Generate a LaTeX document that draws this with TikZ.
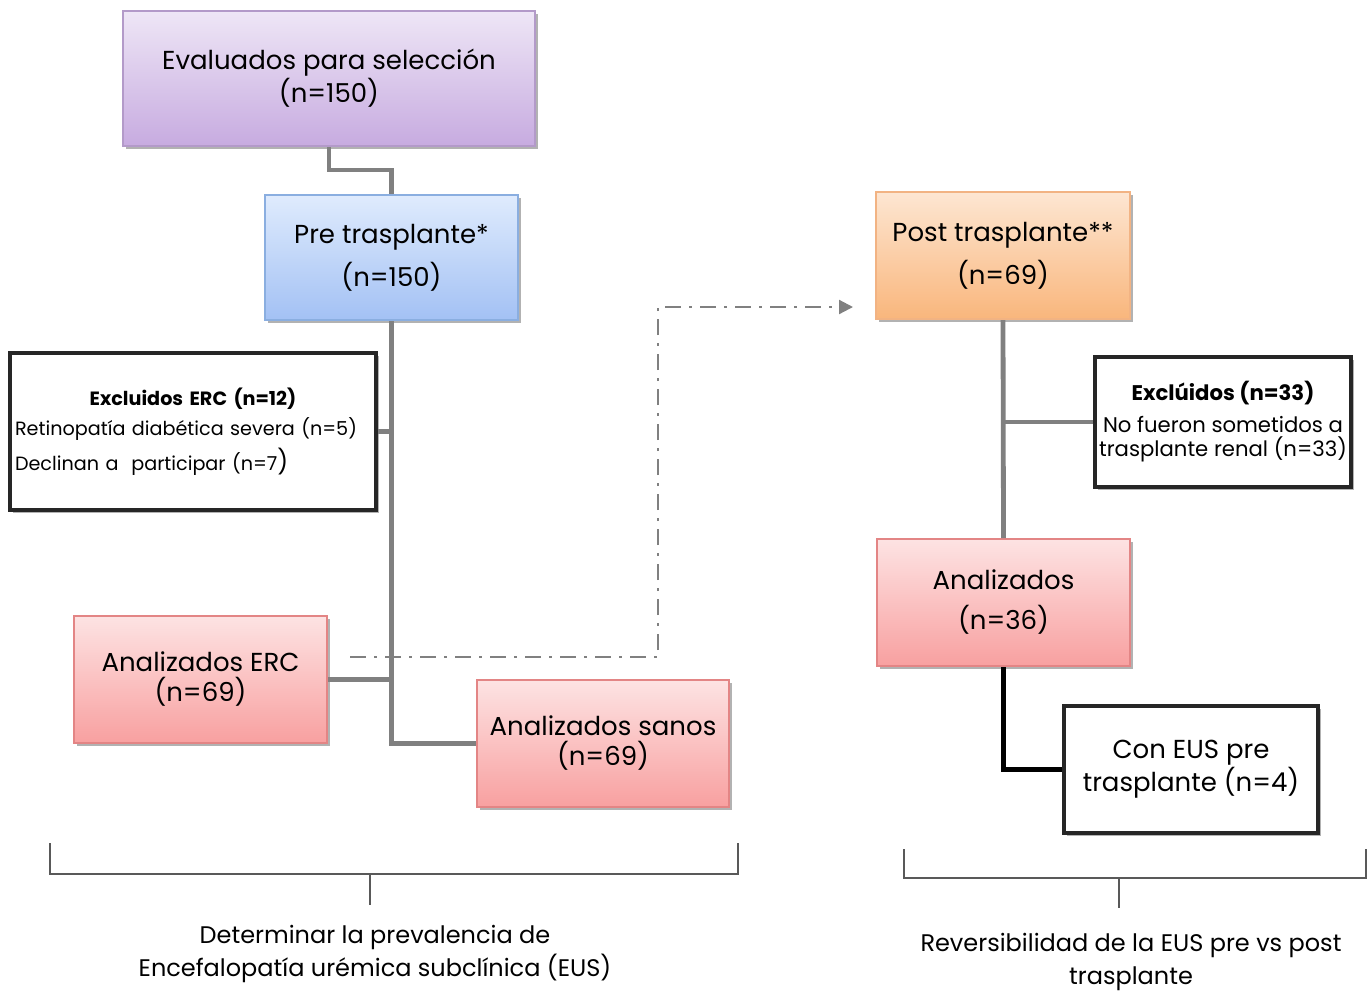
\documentclass[tikz,border=0pt]{standalone}
\usepackage{fontspec}
\setmainfont{Poppins}
\usetikzlibrary{arrows.meta,shadows}

\definecolor{lila1}{HTML}{EEE6F6}
\definecolor{lila2}{HTML}{C7ABE0}
\definecolor{lilaline}{HTML}{B39AC9}
\definecolor{azul1}{HTML}{DFEBFD}
\definecolor{azul2}{HTML}{A3C1F4}
\definecolor{azulline}{HTML}{8AAEE0}
\definecolor{naranja1}{HTML}{FDE6D2}
\definecolor{naranja2}{HTML}{F9B67C}
\definecolor{naranjaline}{HTML}{F2B383}
\definecolor{rojo1}{HTML}{FDE3E3}
\definecolor{rojo2}{HTML}{F8A0A0}
\definecolor{rojoline}{HTML}{E38585}
\definecolor{linea}{HTML}{808080}

\tikzset{
  caja/.style={rectangle, align=center, inner sep=2pt,
    font=\fontsize{13}{15}\selectfont,
    general shadow={shadow xshift=1.6pt, shadow yshift=-1.6pt, opacity=0.3, fill=black}},
  lila/.style={caja, draw=lilaline, line width=1pt, top color=lila1, bottom color=lila2},
  azul/.style={caja, draw=azulline, line width=1pt, top color=azul1, bottom color=azul2},
  naranja/.style={caja, draw=naranjaline, line width=1pt, top color=naranja1, bottom color=naranja2},
  rojo/.style={caja, draw=rojoline, line width=1pt, top color=rojo1, bottom color=rojo2},
  blanca/.style={caja, draw=black!85, line width=1.6pt, fill=white},
  flujo/.style={draw=linea, line width=2.4pt},
  llave/.style={draw=black!65, line width=0.8pt},
  objetivo/.style={align=center, font=\fontsize{12}{16.5}\selectfont}
}

\begin{document}
\begin{tikzpicture}[x=0.5pt, y=-0.5pt]
    \useasboundingbox (0,0) rectangle (1370,992);

    % Boxes
    \node[lila, minimum width=206pt, minimum height=67.5pt] (eval) at (329,78.5)
        {Evaluados para selección\\(n=150)};
    \node[azul, minimum width=126.5pt, minimum height=62.5pt] (pre) at (391.5,257.5)
        {Pre trasplante*\\[5pt](n=150)};
    \node[naranja, minimum width=127pt, minimum height=63.5pt] (post) at (1003,255.5)
        {Post trasplante**\\[5pt](n=69)};
    \node[blanca, minimum width=183pt, minimum height=78.5pt, text width=178pt, align=left,
          font=\fontsize{9.6}{15}\selectfont] (exclerc) at (193,431.5)
        {\makebox[\linewidth]{\textbf{Excluidos ERC (n=12)}}\\
         Retinopatía diabética severa (n=5)\\[2.5pt]
         Declinan a\ \ participar (n=7{\fontsize{12}{12}\selectfont)}};
    \node[blanca, minimum width=128pt, minimum height=65pt,
          font=\fontsize{10.6}{12}\selectfont] (exclpost) at (1223,422)
        {\textbf{Exclúidos (n=33)}\\[4pt]No fueron sometidos a\\trasplante renal (n=33)};
    \node[rojo, minimum width=126.5pt, minimum height=63.5pt] (anaerc) at (200.5,679.5)
        {Analizados ERC\\(n=69)};
    \node[rojo, minimum width=126pt, minimum height=63.5pt] (sanos) at (603,743.5)
        {Analizados sanos\\(n=69)};
    \node[rojo, minimum width=126.5pt, minimum height=63.5pt] (anapost) at (1003.5,602.5)
        {Analizados\\[5pt](n=36)};
    \node[blanca, minimum width=127pt, minimum height=63.5pt] (coneus) at (1191,769.5)
        {Con EUS pre\\trasplante (n=4)};

    % Connectors pre
    \draw[flujo] (eval.south) -- ++(0,23) -| (pre.north);
    \draw[flujo] (pre.south) -- (pre.south |- sanos.west) -- (sanos.west);
    \draw[flujo] (exclerc.east) -- (exclerc.east -| pre.south);
    \draw[flujo] (anaerc.east) -- (anaerc.east -| pre.south);

    % Connectors post
    \draw[flujo] (post.south) -- (anapost.north);
    \draw[flujo] (exclpost.west) -- (exclpost.west -| post.south);
    \draw[black, line width=2.2pt] (anapost.south) |- (coneus.west);

    % Dash-dot link
    \coordinate (dstart) at (350,657);
    \coordinate (dturn) at (658,657);
    \coordinate (dend) at (853,307);
    \draw[linea, line width=1.1pt, dash pattern=on 8pt off 4pt on 1.5pt off 4pt,
          -{Triangle[length=7pt,width=7pt]}] (dstart) -- (dturn) |- (dend);

    % Brackets
    \draw[llave] (50,843) -- (50,874) -- (738,874) -- (738,843);
    \draw[llave] (370,874) -- (370,905);
    \draw[llave] (904,849) -- (904,878) -- (1366,878) -- (1366,849);
    \draw[llave] (1119,878) -- (1119,908);

    % Aims
    \node[objetivo] (aim1) at (375,953.5)
        {Determinar la prevalencia de\\Encefalopatía urémica subclínica (EUS)};
    \node[objetivo] (aim2) at (1131,961.5)
        {Reversibilidad de la EUS pre vs post\\trasplante};
\end{tikzpicture}
\end{document}
